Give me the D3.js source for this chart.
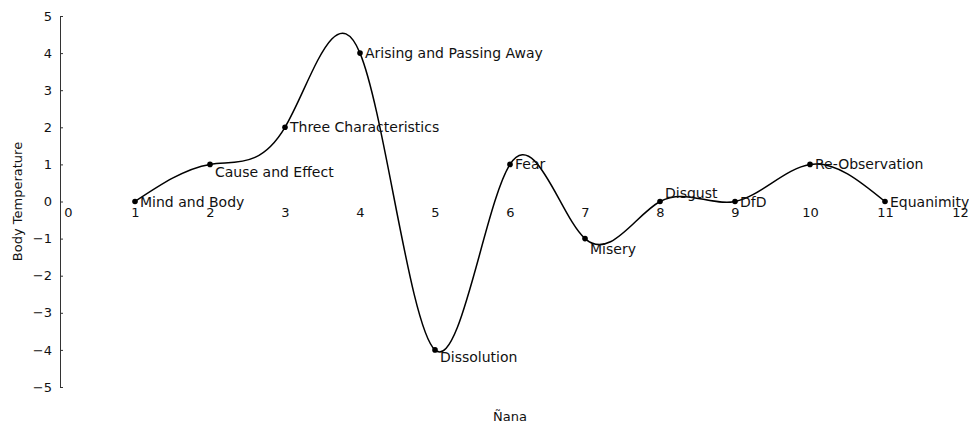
<!DOCTYPE html>
<html>
<head>
  <meta charset="utf-8">
  <title>Body Temperature by Ñana</title>
  <style>
    body { margin: 0; background: #fff; font-family: "DejaVu Sans", sans-serif; }
    .line { fill: none; stroke: #000; stroke-width: 1.5; }
    text { font-size: 13px; fill: #111; }
    .label { font-size: 14px; }
  </style>
  <script src="https://d3js.org/d3.v7.min.js"></script>
</head>
<body>
  <div id="chart"></div>
  <script>
    // stages of insight and their "temperature"
    var stages = ["Mind and Body", "Cause and Effect", "Three Characteristics",
      "Arising and Passing Away", "Dissolution", "Fear", "Misery", "Disgust",
      "DfD", "Re-Observation", "Equanimity"];
    var nana = [1, 2, 3, 4, 5, 6, 7, 8, 9, 10, 11];
    var temperature = [0, 1, 2, 4, -4, 1, -1, 0, 0, 1, 0];
    var xTicks = [0, 1, 2, 3, 4, 5, 6, 7, 8, 9, 10, 11, 12];
    var yTicks = [-5, -4, -3, -2, -1, 0, 1, 2, 3, 4, 5];

    var width = 969, height = 426;
    var margin = { top: 16, right: 9, bottom: 39, left: 60 };

    var x = d3.scaleLinear().domain([0, 12]).range([margin.left, width - margin.right]);
    var y = d3.scaleLinear().domain([-5, 5]).range([height - margin.bottom, margin.top]);

    var svg = d3.select("#chart").append("svg")
      .attr("width", width)
      .attr("height", height);

    // y axis, ticks pointing inward
    var yAxis = svg.append("g")
      .attr("transform", "translate(" + margin.left + ",0)")
      .call(d3.axisRight(y).tickValues(yTicks).tickSize(3).tickSizeOuter(0));
    yAxis.select(".domain").attr("stroke", "#333");
    yAxis.selectAll(".tick line").attr("stroke", "#333");
    yAxis.selectAll(".tick text")
      .attr("x", -8)
      .attr("text-anchor", "end")
      .style("font-size", "13px")
      .style("font-family", "DejaVu Sans, sans-serif")
      .attr("fill", "#111");

    // x tick labels sit just under the zero line, no line drawn
    var xAxis = svg.append("g")
      .attr("transform", "translate(0," + y(0) + ")")
      .call(d3.axisBottom(x).tickValues(xTicks).tickSize(0));
    xAxis.select(".domain").remove();
    xAxis.selectAll(".tick text")
      .attr("y", 6)
      .attr("dx", function (d) { return d === 0 ? 8 : 0; })
      .style("font-size", "13px")
      .style("font-family", "DejaVu Sans, sans-serif")
      .attr("fill", "#111");

    var points = nana.map(function (d, i) {
      return { x: d, y: temperature[i], name: stages[i] };
    });

    var line = d3.line()
      .x(function (d) { return x(d.x); })
      .y(function (d) { return y(d.y); })
      .curve(d3.curveNatural);

    svg.append("path")
      .datum(points)
      .attr("class", "line")
      .attr("d", line);

    svg.append("g").selectAll("circle")
      .data(points)
      .enter().append("circle")
      .attr("cx", function (d) { return x(d.x); })
      .attr("cy", function (d) { return y(d.y); })
      .attr("r", 2.8)
      .attr("fill", "#000");

    // labels: most to the right of the point, a few nudged below or above
    var nudge = { "Cause and Effect": 8, "Dissolution": 7, "Misery": 10, "Disgust": -9 };
    svg.append("g").selectAll("text")
      .data(points)
      .enter().append("text")
      .attr("class", "label")
      .attr("x", function (d) { return x(d.x) + 5; })
      .attr("y", function (d) { return y(d.y) + (nudge[d.name] || 0); })
      .attr("dy", "0.36em")
      .text(function (d) { return d.name; });

    svg.append("text")
      .attr("transform", "translate(22," + y(0) + ") rotate(-90)")
      .attr("text-anchor", "middle")
      .text("Body Temperature");

    svg.append("text")
      .attr("x", (margin.left + width - margin.right) / 2)
      .attr("y", 421)
      .attr("text-anchor", "middle")
      .text("Ñana");
  </script>
</body>
</html>
